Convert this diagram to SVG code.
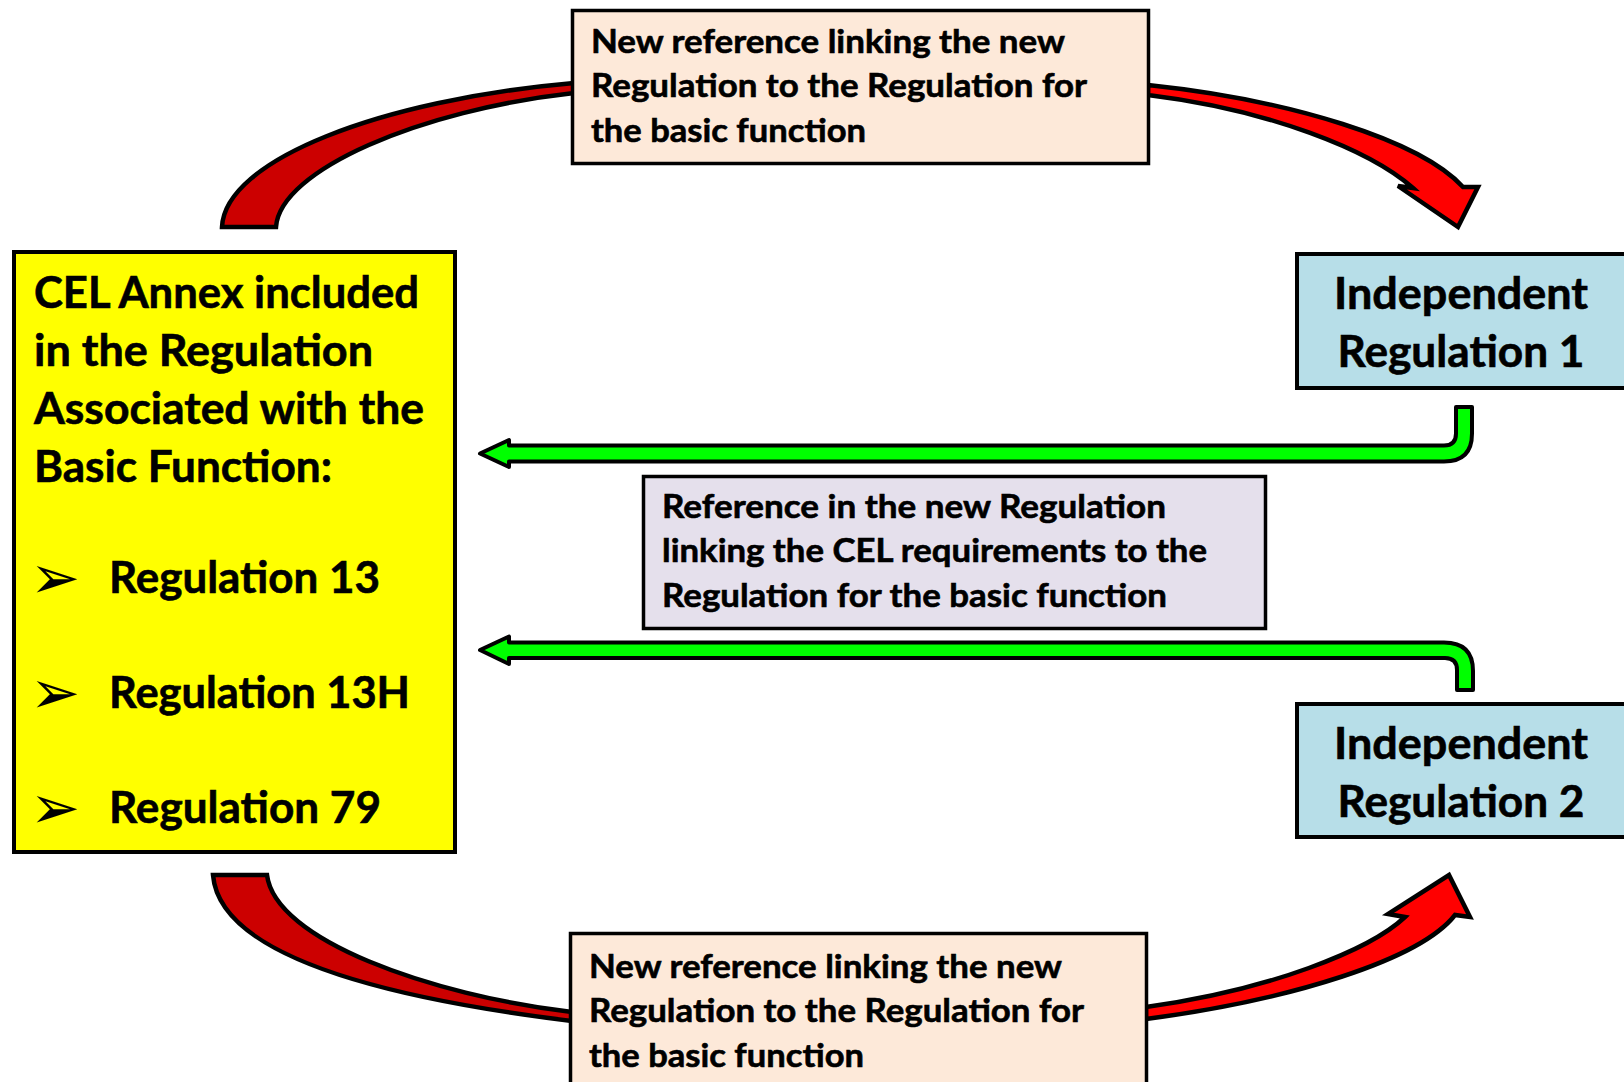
<svg xmlns="http://www.w3.org/2000/svg" width="1624" height="1082" viewBox="0 0 1624 1082">
<style>
.box{stroke:#000;stroke-width:3.5}
.t{font-family:Lato,"Liberation Sans",sans-serif;font-weight:bold;fill:#000;stroke:#000;stroke-width:0.6}
.s{font-size:33px}
.b{font-size:43px}
.red{stroke:#000;stroke-width:4.5;stroke-linejoin:miter}
.grn{fill:#00FF00;stroke:#000;stroke-width:4;stroke-linejoin:round}
.bul{font-family:"DejaVu Sans",sans-serif;font-size:60px;fill:#000}
</style>
<rect width="1624" height="1082" fill="#fff"/>
<g id="connectors">
<path class="red" fill="#CC0000" d="M222,227 C225,160 380,100 574,83 L574,93 C420,110 280,170 276,227 Z"/>
<path class="red" fill="#FF0000" d="M1148,85 C1290,100 1420,140 1463,187 L1478,187 L1458,227 L1398,186 L1413,188 C1370,150 1270,110 1148,95 Z"/>
<path class="red" fill="#CC0000" d="M213,875 L267,875 C275,940 430,995 572,1012 L572,1021 C400,1000 220,960 213,875 Z"/>
<path class="red" fill="#FF0000" d="M1146,1007 C1270,990 1370,950 1405,917 L1388,914 L1449,875 L1470,917 L1455,915 C1420,960 1290,1000 1146,1019 Z"/>
<path class="grn" d="M480,453.5 L509,440 L509,445.5 L1444,445.5 Q1456,445.5 1456,433.5 L1456,407 L1472,407 L1472,433.5 Q1472,461.5 1444,461.5 L509,461.5 L509,467 Z"/>
<path class="grn" d="M480,650 L509,636.5 L509,642.5 L1444,642.5 Q1473,642.5 1473,671 L1473,690 L1457,690 L1457,670 Q1457,658 1445,658 L509,658 L509,664 Z"/>
</g>
<g id="top-label">
<rect class="box" x="572.5" y="10.5" width="576" height="153" fill="#FDE9D9"/>
<text class="t s" x="591" y="53" textLength="474" lengthAdjust="spacingAndGlyphs">New reference linking the new</text>
<text class="t s" x="591" y="97" textLength="496" lengthAdjust="spacingAndGlyphs">Regulation to the Regulation for</text>
<text class="t s" x="591" y="142" textLength="275" lengthAdjust="spacingAndGlyphs">the basic function</text>
</g>
<g id="cel-annex">
<rect x="14" y="252" width="441" height="600" fill="#FFFF00" stroke="#000" stroke-width="4"/>
<text class="t b" x="34" y="308" textLength="385" lengthAdjust="spacingAndGlyphs">CEL Annex included</text>
<text class="t b" x="34" y="366" textLength="339" lengthAdjust="spacingAndGlyphs">in the Regulation</text>
<text class="t b" x="34" y="424" textLength="390" lengthAdjust="spacingAndGlyphs">Associated with the</text>
<text class="t b" x="34" y="482" textLength="298" lengthAdjust="spacingAndGlyphs">Basic Function:</text>
<text class="bul" x="30" y="598">➢</text>
<text class="t b" x="109" y="593" textLength="271" lengthAdjust="spacingAndGlyphs">Regulation 13</text>
<text class="bul" x="30" y="713">➢</text>
<text class="t b" x="109" y="708" textLength="301" lengthAdjust="spacingAndGlyphs">Regulation 13H</text>
<text class="bul" x="30" y="828">➢</text>
<text class="t b" x="109" y="823" textLength="272" lengthAdjust="spacingAndGlyphs">Regulation 79</text>
</g>
<g id="independent-1">
<rect x="1297" y="254" width="340" height="134" fill="#B7DEE8" stroke="#000" stroke-width="4"/>
<text class="t b" x="1461" y="309" text-anchor="middle" textLength="254" lengthAdjust="spacingAndGlyphs">Independent</text>
<text class="t b" x="1461" y="367" text-anchor="middle" textLength="247" lengthAdjust="spacingAndGlyphs">Regulation 1</text>
</g>
<g id="middle-label">
<rect class="box" x="643.5" y="476.5" width="622" height="152" fill="#E5E0EC"/>
<text class="t s" x="662" y="518" textLength="504" lengthAdjust="spacingAndGlyphs">Reference in the new Regulation</text>
<text class="t s" x="662" y="562" textLength="545" lengthAdjust="spacingAndGlyphs">linking the CEL requirements to the</text>
<text class="t s" x="662" y="607" textLength="505" lengthAdjust="spacingAndGlyphs">Regulation for the basic function</text>
</g>
<g id="independent-2">
<rect x="1297" y="704" width="340" height="133" fill="#B7DEE8" stroke="#000" stroke-width="4"/>
<text class="t b" x="1461" y="759" text-anchor="middle" textLength="254" lengthAdjust="spacingAndGlyphs">Independent</text>
<text class="t b" x="1461" y="817" text-anchor="middle" textLength="247" lengthAdjust="spacingAndGlyphs">Regulation 2</text>
</g>
<g id="bottom-label">
<rect class="box" x="570.5" y="933.5" width="576" height="170" fill="#FDE9D9"/>
<text class="t s" x="589" y="978" textLength="473" lengthAdjust="spacingAndGlyphs">New reference linking the new</text>
<text class="t s" x="589" y="1022" textLength="495" lengthAdjust="spacingAndGlyphs">Regulation to the Regulation for</text>
<text class="t s" x="589" y="1067" textLength="275" lengthAdjust="spacingAndGlyphs">the basic function</text>
</g>
</svg>
